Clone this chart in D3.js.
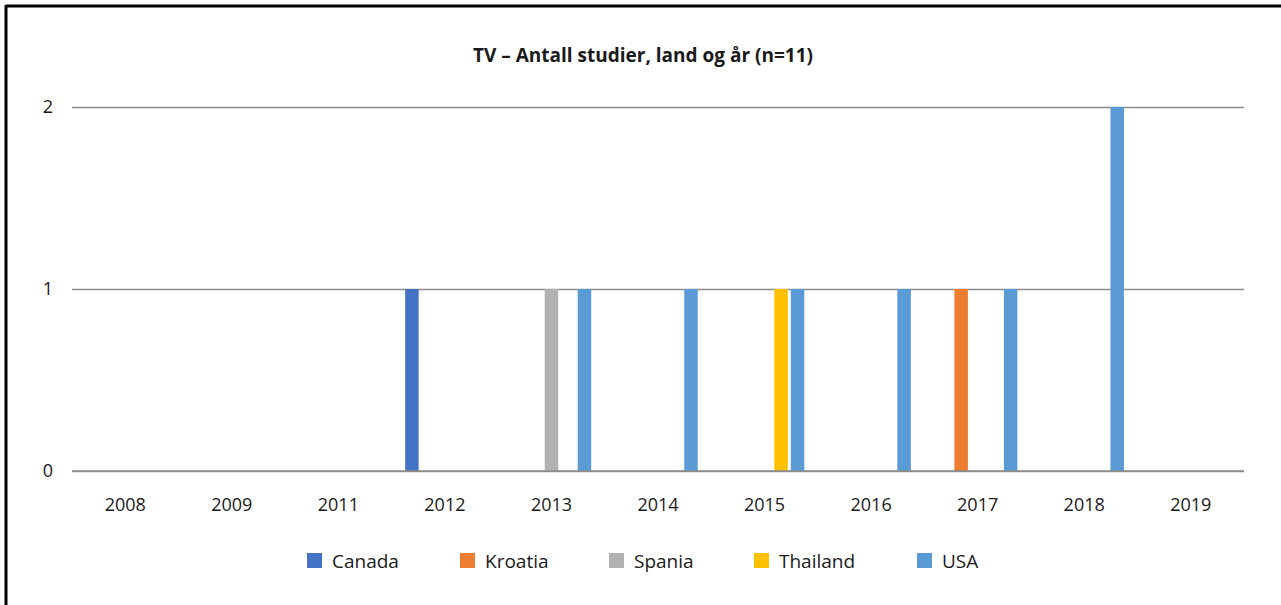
<!DOCTYPE html>
<html>
<head>
<meta charset="utf-8">
<script src="https://cdn.jsdelivr.net/npm/d3@7"></script>
<style>
  body { margin: 0; background: #fff; }
  svg { display: block; font-family: "Open Sans", "Noto Sans", sans-serif; }
</style>
</head>
<body>
<svg id="chart" width="1281" height="605"></svg>
<script>
// chart data
var years = ["2008", "2009", "2011", "2012", "2013", "2014", "2015", "2016", "2017", "2018", "2019"];
var countries = ["Canada", "Kroatia", "Spania", "Thailand", "USA"];
var canada   = [0, 0, 0, 1, 0, 0, 0, 0, 0, 0, 0];
var kroatia  = [0, 0, 0, 0, 0, 0, 0, 0, 1, 0, 0];
var spania   = [0, 0, 0, 0, 1, 0, 0, 0, 0, 0, 0];
var thailand = [0, 0, 0, 0, 0, 0, 1, 0, 0, 0, 0];
var usa      = [0, 0, 0, 0, 1, 1, 1, 1, 1, 2, 0];
var yTicks = [0, 1, 2];
var titleText = "TV \u2013 Antall studier, land og \u00e5r (n=11)";

var seriesValues = [canada, kroatia, spania, thailand, usa];
var colors = ["#4472c4", "#ed7d31", "#b2b2b2", "#ffc000", "#5b9bd5"];

var svg = d3.select("#chart");

// frame (top and left edges only)
svg.append("line").attr("x1", 6).attr("x2", 1281).attr("y1", 6).attr("y2", 6)
    .attr("stroke", "#000").attr("stroke-width", 3);
svg.append("line").attr("x1", 6).attr("x2", 6).attr("y1", 5).attr("y2", 605)
    .attr("stroke", "#000").attr("stroke-width", 3);

var plotLeft = 72, plotRight = 1244, plotTop = 107, plotBottom = 471;

var x0 = d3.scaleBand().domain(years).range([plotLeft, plotRight]).padding(0);
var x1 = d3.scaleBand().domain(countries).range([-41.25, 41.25])
    .paddingInner(3 / 16.5).paddingOuter(1.5 / 16.5);
var y = d3.scaleLinear().domain([0, 2]).range([plotBottom, plotTop]);
var color = d3.scaleOrdinal().domain(countries).range(colors);

// title
svg.append("text")
    .attr("x", 643).attr("y", 62)
    .attr("text-anchor", "middle")
    .attr("font-weight", "bold")
    .attr("font-size", 19)
    .attr("fill", "#1a1a1a")
    .text(titleText);

// gridlines + y labels
var yAxis = d3.axisLeft(y).tickValues(yTicks).tickSize(-(plotRight - plotLeft)).tickPadding(19)
    .tickFormat(d3.format("d"));
var gy = svg.append("g").attr("transform", "translate(" + plotLeft + ",0)").call(yAxis);
gy.select(".domain").remove();
gy.selectAll(".tick line").attr("stroke", "#8c8c8c").attr("stroke-width", 1.5);
gy.selectAll(".tick text").attr("font-size", 18).attr("fill", "#1a1a1a")
    .attr("font-family", "\"Open Sans\", \"Noto Sans\", sans-serif");

// bars
var rows = [];
years.forEach(function(yr, i) {
    countries.forEach(function(c, j) {
        rows.push({ year: yr, country: c, value: seriesValues[j][i] });
    });
});

svg.append("g").selectAll("rect")
    .data(rows.filter(function(d) { return d.value > 0; }))
    .enter()
    .append("rect")
    .attr("x", function(d) { return x0(d.year) + x0.bandwidth() / 2 + x1(d.country); })
    .attr("y", function(d) { return y(d.value); })
    .attr("width", x1.bandwidth())
    .attr("height", function(d) { return y(0) - y(d.value); })
    .attr("fill", function(d) { return color(d.country); });

// zero line drawn over the bars
svg.append("line").attr("x1", plotLeft).attr("x2", plotRight).attr("y1", y(0)).attr("y2", y(0))
    .attr("stroke", "#8c8c8c").attr("stroke-width", 1.5);

// x labels
var xAxis = d3.axisBottom(x0).tickSize(0).tickPadding(0);
var gx = svg.append("g").attr("transform", "translate(0," + plotBottom + ")").call(xAxis);
gx.select(".domain").remove();
gx.selectAll(".tick text").attr("dy", null).attr("y", 40).attr("font-size", 18).attr("fill", "#1a1a1a")
    .attr("font-family", "\"Open Sans\", \"Noto Sans\", sans-serif");

// legend
var legendX = [307, 460, 609, 754, 917];
var legend = svg.append("g").selectAll("g")
    .data(countries)
    .enter()
    .append("g")
    .attr("transform", function(d, i) { return "translate(" + legendX[i] + ",553)"; });
legend.append("rect").attr("width", 15).attr("height", 15)
    .attr("fill", function(d) { return color(d); });
legend.append("text").attr("x", 25).attr("y", 14.5)
    .attr("font-size", 19).attr("fill", "#1a1a1a")
    .text(function(d) { return d; });
</script>
</body>
</html>
